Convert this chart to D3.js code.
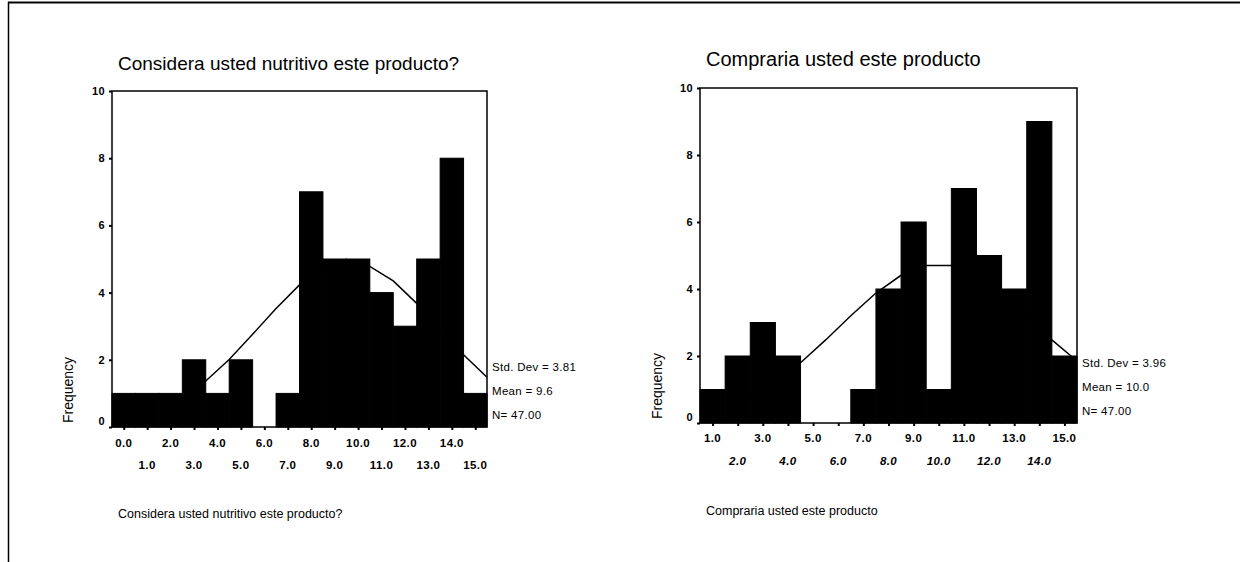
<!DOCTYPE html>
<html>
<head>
<meta charset="utf-8">
<script src="https://cdn.jsdelivr.net/npm/d3@7"></script>
<style>
  body { margin: 0; background: #fff; }
  svg text { font-family: "Liberation Sans", Arial, sans-serif; fill: #000; }
  .tick-lbl { font-size: 11.5px; font-weight: bold; letter-spacing: 0.4px; }
  .stat { font-size: 11.5px; letter-spacing: 0.3px; }
</style>
</head>
<body>
<svg id="chart" width="1240" height="562"></svg>
<script>
// valeurs
const yTicks = [0, 2, 4, 6, 8, 10];

const nutritivoTitle = "Considera usted nutritivo este producto?";
const nutritivoBins = [0, 1, 2, 3, 4, 5, 6, 7, 8, 9, 10, 11, 12, 13, 14, 15];
const nutritivoFreq = [1, 1, 1, 2, 1, 2, 0, 1, 7, 5, 5, 4, 3, 5, 8, 1];
const nutritivoCurveX = [-0.5, 0.5, 1.5, 2.5, 3.5, 4.5, 5.5, 6.5, 7.5, 8.5, 9.5, 10.5, 11.5, 12.5, 13.5, 14.5, 15.5];
const nutritivoCurveY = [0.15, 0.28, 0.51, 0.87, 1.37, 2.01, 2.76, 3.53, 4.23, 4.72, 4.92, 4.78, 4.35, 3.68, 2.91, 2.15, 1.48];
const nutritivoStats = ["Std. Dev = 3.81", "Mean = 9.6", "N= 47.00"];

const compraTitle = "Compraria usted este producto";
const compraBins = [1, 2, 3, 4, 5, 6, 7, 8, 9, 10, 11, 12, 13, 14, 15];
const compraFreq = [1, 2, 3, 2, 0, 0, 1, 4, 6, 1, 7, 5, 4, 9, 2];
const compraCurveX = [0.5, 1.5, 2.5, 3.5, 4.5, 5.5, 6.5, 7.5, 8.5, 9.5, 10.5, 11.5, 12.5, 13.5, 14.5, 15.5];
const compraCurveY = [0.27, 0.47, 0.79, 1.23, 1.80, 2.48, 3.20, 3.88, 4.41, 4.70, 4.70, 4.41, 3.88, 3.20, 2.48, 1.85];
const compraStats = ["Std. Dev = 3.96", "Mean = 10.0", "N= 47.00"];

const svg = d3.select("#chart");

// cadre de la page scannée
svg.append("line").attr("x1", 8).attr("x2", 1240).attr("y1", 2.5).attr("y2", 2.5)
    .attr("stroke", "#000").attr("stroke-width", 2);
svg.append("line").attr("x1", 8.5).attr("x2", 8.5).attr("y1", 2).attr("y2", 562)
    .attr("stroke", "#000").attr("stroke-width", 1.5);

function drawHist(cfg) {
    const x = d3.scaleLinear()
        .domain([cfg.bins[0] - 0.5, cfg.bins[cfg.bins.length - 1] + 0.5])
        .range([cfg.left, cfg.right]);
    const y = d3.scaleLinear().domain([0, 10]).range([cfg.bottom, cfg.top]);

    const g = svg.append("g");

    // titre
    g.append("text")
        .attr("x", cfg.left + 6).attr("y", cfg.titleY)
        .style("font-size", cfg.titleSize)
        .text(cfg.title);

    // barres
    g.selectAll(".bar")
        .data(cfg.bins.map((b, i) => ({bin: b, value: cfg.freq[i]})))
        .enter().append("rect")
        .attr("class", "bar")
        .attr("x", d => x(d.bin - 0.5))
        .attr("y", d => y(d.value))
        .attr("width", d => x(d.bin + 0.5) - x(d.bin - 0.5))
        .attr("height", d => y(0) - y(d.value))
        .attr("fill", "#000")
        .attr("stroke", "#000")
        .attr("stroke-width", 1);

    // courbe normale
    const line = d3.line()
        .x(d => x(d[0]))
        .y(d => y(d[1]));
    g.append("path")
        .datum(cfg.curveX.map((v, i) => [v, cfg.curveY[i]]))
        .attr("d", line)
        .attr("fill", "none")
        .attr("stroke", "#000")
        .attr("stroke-width", 1.5);

    // cadre du graphique
    g.append("rect")
        .attr("x", cfg.left).attr("y", cfg.top)
        .attr("width", cfg.right - cfg.left).attr("height", cfg.bottom - cfg.top)
        .attr("fill", "none").attr("stroke", "#000").attr("stroke-width", 1.5);

    // axe Y
    const yAxis = g.append("g")
        .attr("transform", "translate(" + cfg.left + ",0)")
        .call(d3.axisLeft(y).tickValues(yTicks).tickSize(3).tickPadding(4));
    yAxis.select(".domain").remove();
    yAxis.selectAll("line").attr("stroke-width", 2);
    yAxis.selectAll("text").attr("class", "tick-lbl").style("font-size", "11px")
        .attr("dy", d => d === 0 ? "-0.2em" : "0.32em");

    // axe X : petites marques
    const xAxis = g.append("g")
        .attr("transform", "translate(0," + cfg.bottom + ")")
        .call(d3.axisBottom(x).tickValues(cfg.bins).tickSize(3).tickFormat(""));
    xAxis.select(".domain").remove();
    xAxis.selectAll("line").attr("stroke-width", 2);

    // étiquettes X sur deux rangées
    g.selectAll(".xl")
        .data(cfg.bins)
        .enter().append("text")
        .attr("class", "tick-lbl")
        .attr("x", d => x(d))
        .attr("y", d => cfg.bottom + ((d % 2 === cfg.firstRowParity) ? cfg.row1 : cfg.row2))
        .attr("text-anchor", "middle")
        .style("font-style", d => (d % 2 === cfg.firstRowParity) ? "normal" : cfg.row2Style)
        .text(d => d3.format(".1f")(d));

    // titre axe Y
    g.append("text")
        .attr("transform", "translate(" + cfg.freqX + "," + cfg.freqY + ") rotate(-90)")
        .attr("text-anchor", "middle")
        .style("font-size", "14px")
        .text("Frequency");

    // statistiques
    g.selectAll(".stat")
        .data(cfg.stats)
        .enter().append("text")
        .attr("class", "stat")
        .attr("x", cfg.right + 5)
        .attr("y", (d, i) => cfg.statY + i * 24)
        .text(d => d);

    // titre axe X
    g.append("text")
        .attr("x", cfg.left + 6).attr("y", cfg.xTitleY)
        .style("font-size", "12.5px")
        .text(cfg.title);
}

drawHist({
    title: nutritivoTitle, bins: nutritivoBins, freq: nutritivoFreq,
    curveX: nutritivoCurveX, curveY: nutritivoCurveY, stats: nutritivoStats,
    left: 112, right: 487, top: 91, bottom: 427, titleSize: "19px",
    titleY: 70, row1: 20, row2: 42, firstRowParity: 0, row2Style: "normal",
    freqX: 73, freqY: 390, statY: 371, xTitleY: 518
});

drawHist({
    title: compraTitle, bins: compraBins, freq: compraFreq,
    curveX: compraCurveX, curveY: compraCurveY, stats: compraStats,
    left: 700, right: 1077, top: 88, bottom: 423, titleSize: "20px",
    titleY: 66, row1: 19, row2: 42, firstRowParity: 1, row2Style: "italic",
    freqX: 662, freqY: 386, statY: 367, xTitleY: 515
});
</script>
</body>
</html>
